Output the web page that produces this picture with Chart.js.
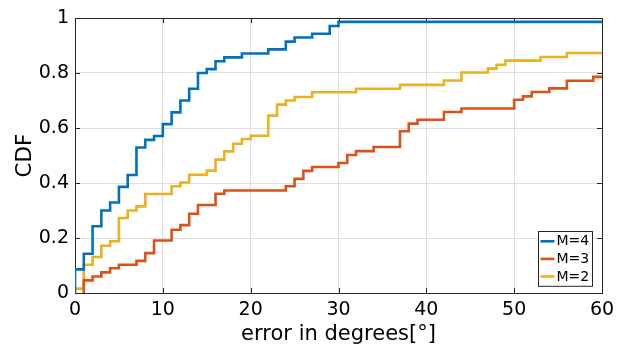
<!DOCTYPE html>
<html>
<head>
<meta charset="utf-8">
<script src="https://cdn.jsdelivr.net/npm/chart.js@4"></script>
<style>
  body { margin: 0; background: #fff; }
</style>
</head>
<body>
<canvas id="chart" width="627" height="347"></canvas>
<script>
// values (error in degrees, CDF)
const m4Err = [0, 0, 1, 2, 3, 4, 5, 6, 7, 8, 9, 10, 11, 12, 13, 14, 15, 16, 17, 19, 22, 24, 25, 27, 29, 30, 60]
const m4Cdf = [0, 0.086, 0.143, 0.243, 0.3, 0.329, 0.386, 0.429, 0.529, 0.557, 0.571, 0.614, 0.657, 0.7, 0.743, 0.8, 0.814, 0.843, 0.857, 0.871, 0.886, 0.914, 0.929, 0.943, 0.971, 0.986, 0.986]

const m3Err = [1, 1, 2, 3, 4, 5, 7, 8, 9, 11, 12, 13, 14, 16, 17, 24, 25, 26, 27, 30, 31, 32, 34, 37, 38, 39, 42, 44, 50, 51, 52, 54, 56, 59, 60]
const m3Cdf = [0, 0.046, 0.06, 0.075, 0.09, 0.103, 0.117, 0.145, 0.191, 0.23, 0.247, 0.288, 0.32, 0.361, 0.373, 0.388, 0.415, 0.444, 0.458, 0.473, 0.502, 0.516, 0.531, 0.588, 0.616, 0.63, 0.658, 0.671, 0.703, 0.715, 0.731, 0.744, 0.772, 0.786, 0.786]

const m2Err = [0, 0, 1, 2, 3, 4, 5, 6, 7, 8, 11, 12, 13, 15, 16, 17, 18, 19, 20, 22, 23, 24, 25, 27, 32, 37, 42, 44, 47, 48, 49, 53, 56, 60]
const m2Cdf = [0, 0.016, 0.103, 0.131, 0.172, 0.188, 0.273, 0.3, 0.315, 0.36, 0.388, 0.402, 0.43, 0.445, 0.485, 0.515, 0.543, 0.56, 0.572, 0.645, 0.685, 0.7, 0.713, 0.73, 0.743, 0.757, 0.773, 0.802, 0.816, 0.83, 0.845, 0.858, 0.873, 0.873]

const seriesLabels = ['M=4', 'M=3', 'M=2']
const xTicks = [0, 10, 20, 30, 40, 50, 60]
const yTicks = [0, 0.2, 0.4, 0.6, 0.8, 1]
const yTickLabels = ['0', '0.2', '0.4', '0.6', '0.8', '1']

const font = 'DejaVu Sans'
const axisColor = '#262626'

function pts(xs, ys) {
  return xs.map((x, i) => ({ x: x, y: ys[i] }))
}

function series(label, xs, ys, color) {
  return {
    label: label,
    data: pts(xs, ys),
    borderColor: color,
    backgroundColor: color,
    borderWidth: 2.6,
    pointRadius: 0,
    showLine: true,
    stepped: 'before',
    fill: false
  }
}

// box round the plot, inward ticks on all four sides
const frame = {
  id: 'frame',
  beforeDatasetsDraw(chart) {
    const { ctx, chartArea: a, scales } = chart
    ctx.save()
    ctx.strokeStyle = axisColor
    ctx.lineWidth = 1
    ctx.beginPath()
    xTicks.forEach(v => {
      const px = Math.round(scales.x.getPixelForValue(v)) + 0.5
      ctx.moveTo(px, a.bottom); ctx.lineTo(px, a.bottom - 5)
      ctx.moveTo(px, a.top); ctx.lineTo(px, a.top + 5)
    })
    yTicks.forEach(v => {
      const py = Math.round(scales.y.getPixelForValue(v)) + 0.5
      ctx.moveTo(a.left, py); ctx.lineTo(a.left + 5, py)
      ctx.moveTo(a.right, py); ctx.lineTo(a.right - 5, py)
    })
    ctx.stroke()
    ctx.strokeRect(Math.round(a.left) + 0.5, Math.round(a.top) + 0.5,
      Math.round(a.right - a.left), Math.round(a.bottom - a.top))
    ctx.restore()
  },
  afterDraw(chart) {
    // legend box in the lower right corner
    const { ctx, chartArea: a } = chart
    const sets = chart.data.datasets
    const w = 54, rowH = 17.6, h = rowH * sets.length + 2
    const x0 = Math.round(a.right - 10 - w) + 0.5
    const y0 = Math.round(a.bottom - 7 - h) + 0.5
    ctx.save()
    ctx.fillStyle = '#fff'
    ctx.fillRect(x0, y0, w, h)
    ctx.strokeStyle = axisColor
    ctx.lineWidth = 1
    ctx.strokeRect(x0, y0, w, h)
    ctx.font = '14px "' + font + '"'
    ctx.textBaseline = 'middle'
    ctx.fillStyle = '#000'
    sets.forEach((s, i) => {
      const cy = y0 + 1 + rowH * (i + 0.5)
      ctx.strokeStyle = s.borderColor
      ctx.lineWidth = 2.6
      ctx.beginPath()
      ctx.moveTo(x0 + 2, cy); ctx.lineTo(x0 + 16, cy)
      ctx.stroke()
      ctx.fillText(s.label, x0 + 18, cy + 0.5)
    })
    ctx.restore()
  }
}

const ctx = document.getElementById('chart').getContext('2d')
const chart = new Chart(ctx, {
  type: 'scatter',
  data: {
    datasets: [
      series(seriesLabels[0], m4Err, m4Cdf, '#0072BD'),
      series(seriesLabels[1], m3Err, m3Cdf, '#D95319'),
      series(seriesLabels[2], m2Err, m2Cdf, '#EDB120')
    ]
  },
  options: {
    responsive: false,
    animation: false,
    layout: { padding: { left: 0, right: 25, top: 18, bottom: 0 } },
    plugins: { legend: { display: false }, tooltip: { enabled: false } },
    scales: {
      x: {
        type: 'linear',
        min: 0,
        max: 60,
        afterBuildTicks: s => { s.ticks = xTicks.map(v => ({ value: v })) },
        afterFit: s => { s.height = 54 },
        grid: { color: '#dfdfdf', drawTicks: false },
        border: { display: false },
        ticks: { color: '#000', padding: 6, maxRotation: 0, font: { family: font, size: 19 } },
        title: {
          display: true,
          text: 'error in degrees[°]',
          color: '#000',
          padding: { top: 0, bottom: 0 },
          font: { family: font, size: 21 }
        }
      },
      y: {
        min: 0,
        max: 1,
        afterBuildTicks: s => { s.ticks = yTicks.map(v => ({ value: v })) },
        afterFit: s => { s.width = 75 },
        grid: { color: '#dfdfdf', drawTicks: false },
        border: { display: false },
        ticks: {
          color: '#000',
          padding: 6,
          font: { family: font, size: 19 },
          callback: v => yTickLabels[yTicks.indexOf(v)]
        },
        title: {
          display: true,
          text: 'CDF',
          color: '#000',
          padding: { top: 13, bottom: 0 },
          font: { family: font, size: 21.5 }
        }
      }
    }
  },
  plugins: [frame]
})
</script>
</body>
</html>
